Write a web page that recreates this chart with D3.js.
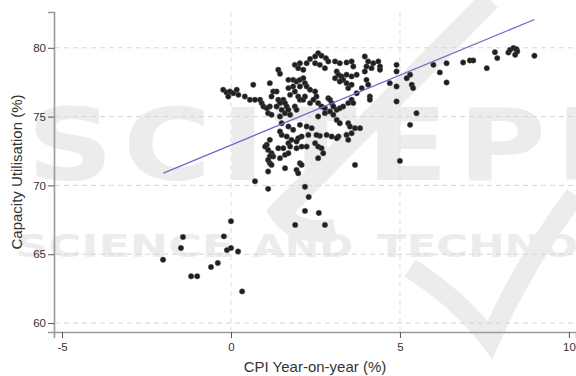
<!DOCTYPE html>
<html>
<head>
<meta charset="utf-8">
<script src="https://cdn.jsdelivr.net/npm/d3@7"></script>
<style>
  body { margin: 0; background: #fff; }
  svg { display: block; font-family: "Liberation Sans", Arial, sans-serif; }
</style>
</head>
<body>
<div id="container"></div>
<script>
// CPI year-on-year (%) vs capacity utilisation (%)
var cpi = [
  -2.01, -1.48, -1.42, -1.18, -1.00, -0.59, -0.39, -0.21, -0.12, 0.00, 0.21, 0.33, 0.00,
  0.71, 1.10, 2.19, 2.30, 2.19, 1.90, 2.60, 2.78,
  2.58, 2.49, 2.34, 2.68, 2.81, 2.88, 2.24, 2.04, 1.89, 1.99, 2.14, 2.49, 2.63, 2.78,
  3.08, 3.22, 3.42, 3.57, 3.62, 3.96, 4.06, 4.21, 4.36, 4.41, 4.01, 4.16, 3.96,
  3.13, 3.18, 3.27, 3.42, 3.57, 3.72, 3.32, 3.42, 3.57, 3.47, 3.22, 3.08, 4.01, 4.06,
  3.87, 3.72, 4.11, 4.11,
  1.40, 1.45, 1.70, 1.84, 1.94, 2.04, 2.14, 2.19, 2.24, 2.04, 1.84, 1.70, 1.75, 1.89,
  1.99, 2.04, 2.14, 2.19, 2.34, 2.49, 2.53, 2.44, 2.34, 2.58, 2.68, 2.78, 2.88, 2.93,
  2.98, 3.03, 3.13, 3.22, 3.32, 3.47, 3.57, 3.62,
  -0.23, -0.13, -0.03, -0.08, 0.07, 0.17, 0.22, 0.41, 0.56, 0.71, 0.66, 0.86, 0.91, 0.96,
  1.15, 1.20, 1.25, 1.35, 1.40, 1.45, 1.15, 1.06, 1.10, 1.20, 1.35, 1.55, 1.60, 1.65,
  1.50, 1.45, 1.60, 1.70, 1.75, 1.89, 1.94,
  1.50, 1.70, 1.84, 2.04, 2.24, 2.39, 2.58, 2.78, 2.93, 3.03, 3.13, 3.22, 3.47, 3.52,
  3.67, 3.82, 3.57, 3.42, 3.18, 3.13, 2.98, 2.83, 2.63, 2.53, 2.29, 2.09, 1.99, 1.94,
  1.79, 1.65, 1.50, 1.45, 1.70, 1.75, 1.55, 1.40, 1.15, 1.06, 1.01, 1.10, 1.20, 1.25,
  1.15, 1.10, 1.15, 1.20, 1.45, 1.60, 1.70, 1.94, 2.09, 2.24, 2.49, 2.58, 2.68, 2.73,
  2.58, 2.04, 2.09, 1.94, 1.99, 1.60, 1.10, 3.47, 3.67,
  4.41, 4.90, 4.90, 4.70, 4.90, 5.20, 5.30, 5.35, 5.39, 4.90, 5.49, 5.30, 5.00,
  5.99, 6.18, 6.38, 6.38, 6.87, 7.07, 7.17, 7.57, 7.81, 7.88, 8.21, 8.26, 8.36, 8.45,
  8.47, 8.41, 8.98
];
var capUtil = [
  64.60, 65.45, 66.25, 63.40, 63.40, 64.07, 64.36, 66.30, 65.30, 65.45, 65.20, 62.30, 67.40,
  70.30, 69.75, 69.90, 69.16, 68.15, 67.13, 68.00, 67.13,
  79.61, 79.37, 79.18, 79.42, 79.25, 79.01, 78.88, 78.88, 78.76, 78.52, 78.40, 78.88, 78.76, 78.52,
  79.01, 78.88, 78.93, 79.01, 78.64, 79.37, 79.01, 78.88, 79.01, 78.64, 78.64, 78.52, 78.28,
  78.28, 78.04, 77.92, 78.04, 77.92, 78.04, 77.67, 77.43, 77.31, 77.07, 77.55, 77.79, 77.67, 77.31,
  77.07, 76.70, 76.46, 76.22,
  78.40, 78.11, 77.67, 77.67, 77.55, 77.67, 77.79, 77.43, 77.19, 77.19, 77.19, 77.07, 76.58, 76.82,
  76.46, 76.22, 76.22, 76.46, 76.95, 76.82, 76.46, 76.22, 75.98, 75.98, 75.73, 75.61, 76.34, 76.22,
  75.98, 75.73, 75.49, 75.61, 75.73, 75.98, 76.22, 75.98,
  76.95, 76.75, 76.82, 76.46, 76.70, 76.95, 76.58, 76.46, 76.22, 76.22, 77.31, 76.22, 75.98, 75.73,
  77.43, 76.46, 76.82, 76.82, 76.22, 75.98, 75.73, 75.61, 75.25, 75.13, 75.73, 76.22, 75.98, 75.73,
  75.49, 75.01, 75.25, 75.49, 75.13, 75.73, 75.49,
  74.52, 74.28, 74.04, 74.40, 74.28, 74.16, 75.01, 75.25, 75.37, 75.13, 74.76, 74.52, 74.52, 74.28,
  74.16, 74.16, 73.79, 73.67, 73.55, 73.43, 73.55, 73.67, 73.60, 73.67, 73.67, 73.55, 73.43, 73.19,
  73.31, 73.55, 73.67, 73.92, 73.07, 72.82, 72.70, 72.70, 73.31, 72.95, 72.82, 72.58, 72.34, 72.10,
  72.10, 71.85, 71.61, 71.49, 71.98, 72.22, 72.34, 72.70, 72.82, 72.82, 73.07, 72.82, 72.70, 72.34,
  71.98, 71.61, 71.49, 71.13, 70.88, 71.25, 71.01, 73.31, 71.49,
  78.40, 78.76, 78.28, 77.43, 77.19, 77.79, 78.04, 77.31, 77.07, 76.10, 75.25, 74.40, 71.78,
  78.76, 78.21, 78.88, 77.48, 78.93, 79.08, 79.08, 78.52, 79.68, 79.25, 79.66, 79.85, 79.98, 79.90,
  79.73, 79.49, 79.42
];

// linear fit
var fitRange = [-2.0, 8.98];
var fitIntercept = 72.93,
    fitSlope = 1.016;

var xTicks = [-5, 0, 5, 10],
    yTicks = [60, 65, 70, 75, 80],
    xGrid = [0, 5];

var width = 576,
    height = 376;

var svg = d3.select("#container").append("svg")
    .attr("width", width)
    .attr("height", height);

var x = d3.scaleLinear().domain([-5.237, 10.21]).range([54, 576]);
var y = d3.scaleLinear().domain([59.35, 82.6]).range([332, 12]);

// publisher watermark, behind everything
var wmColor = "#ececec";
var wm = svg.append("g").attr("fill", wmColor)
    .style("font-family", "'DejaVu Sans', sans-serif").style("font-weight", "bold");
wm.append("g").attr("transform", "translate(27,180) scale(1.2,1)")
    .append("text").style("font-size", "100px").style("letter-spacing", "8px")
    .text("SCITEPRESS");
wm.append("text").attr("x", 15).attr("y", 257).style("font-size", "32px")
    .attr("textLength", 218).attr("lengthAdjust", "spacingAndGlyphs").text("SCIENCE");
wm.append("text").attr("x", 253).attr("y", 257).style("font-size", "32px")
    .attr("textLength", 100).attr("lengthAdjust", "spacingAndGlyphs").text("AND");
wm.append("text").attr("x", 377).attr("y", 257).style("font-size", "32px")
    .attr("textLength", 330).attr("lengthAdjust", "spacingAndGlyphs").text("TECHNOLOGY");
wm.append("path")
    .attr("d", "M490,0 L280,212 Q295,236 335,230")
    .attr("fill", "none").attr("stroke", wmColor).attr("stroke-width", 22);
wm.append("path")
    .attr("d", "M410,268 Q460,300 490,340 Q520,270 575,195")
    .attr("fill", "none").attr("stroke", wmColor).attr("stroke-width", 20);

// grid
svg.append("g").selectAll("line").data(yTicks).enter().append("line")
    .attr("x1", 55).attr("x2", width)
    .attr("y1", function (d) { return y(d); })
    .attr("y2", function (d) { return y(d); })
    .attr("stroke", "#d6d6d6").attr("stroke-width", 1).attr("stroke-dasharray", "5,4");
svg.append("g").selectAll("line").data(xGrid).enter().append("line")
    .attr("x1", function (d) { return x(d); })
    .attr("x2", function (d) { return x(d); })
    .attr("y1", 12).attr("y2", 331)
    .attr("stroke", "#dedede").attr("stroke-width", 1).attr("stroke-dasharray", "5,4");

// axes
var fmt = function (d) { return String(d); };
var xAxis = svg.append("g").attr("transform", "translate(0,332)")
    .call(d3.axisBottom(x).tickValues(xTicks).tickFormat(fmt).tickSize(6).tickPadding(5));
var yAxis = svg.append("g").attr("transform", "translate(54,0)")
    .call(d3.axisLeft(y).tickValues(yTicks).tickFormat(fmt).tickSize(6).tickPadding(2));
[xAxis, yAxis].forEach(function (a) {
    a.select(".domain").attr("stroke", "#9a9a9a").attr("stroke-width", 1.6);
    a.selectAll(".tick line").attr("stroke", "#555");
    a.selectAll(".tick text").attr("fill", "#333").style("font-size", "11.5px")
        .style("font-family", "'Liberation Sans', Arial, sans-serif");
});

// points
var pts = cpi.map(function (d, i) { return { cpi: d, cu: capUtil[i] }; });
svg.append("g").selectAll("circle").data(pts).enter().append("circle")
    .attr("cx", function (d) { return x(d.cpi); })
    .attr("cy", function (d) { return y(d.cu); })
    .attr("r", 2.7)
    .attr("fill", "#1f1f1f")
    .attr("stroke", "#555").attr("stroke-width", 0.5);

// fitted line
svg.append("line")
    .attr("x1", x(fitRange[0])).attr("y1", y(fitIntercept + fitSlope * fitRange[0]))
    .attr("x2", x(fitRange[1])).attr("y2", y(fitIntercept + fitSlope * fitRange[1]))
    .attr("stroke", "#6e6ec9").attr("stroke-width", 1.3);

// titles
svg.append("text")
    .attr("x", 315).attr("y", 372)
    .attr("text-anchor", "middle")
    .style("font-size", "15px").attr("fill", "#333")
    .text("CPI Year-on-year (%)");
svg.append("text")
    .attr("transform", "translate(22,172) rotate(-90)")
    .attr("text-anchor", "middle")
    .style("font-size", "15px").attr("fill", "#333")
    .text("Capacity Utilisation (%)");
</script>
</body>
</html>
